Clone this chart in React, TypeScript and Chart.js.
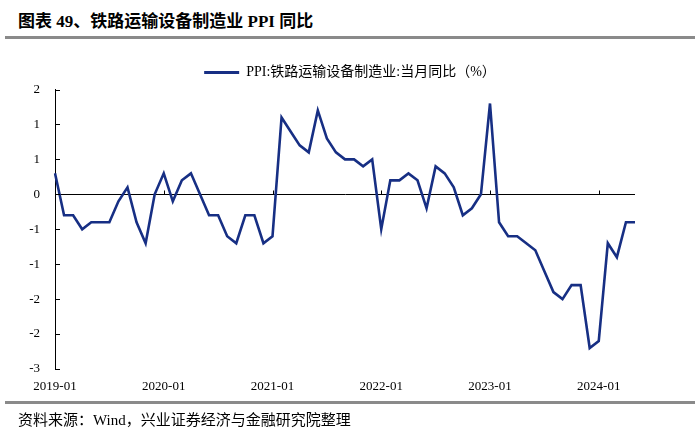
import React, { useEffect, useRef } from 'react';
import { Chart, registerables } from 'chart.js';

Chart.register(...registerables);

const titleText = '图表 49、铁路运输设备制造业 PPI 同比';
const sourceText = '资料来源：Wind，兴业证券经济与金融研究院整理';
const seriesName = 'PPI:铁路运输设备制造业:当月同比（%）';

const years = ['2019', '2020', '2021', '2022', '2023', '2024'];
const monthNames = ['01', '02', '03', '04', '05', '06', '07', '08', '09', '10', '11', '12'];
const lastMonthCount = 5;
const categories: string[] = [];
years.forEach((yr, yi) => {
  const n = yi === years.length - 1 ? lastMonthCount : 12;
  for (let m = 0; m < n; m++) categories.push(`${yr}-${monthNames[m]}`);
});

const ppiValues = [
  0.3, -0.3, -0.3, -0.5, -0.4, -0.4, -0.4, -0.1, 0.1, -0.4, -0.7, 0.0,
  0.3, -0.1, 0.2, 0.3, 0.0, -0.3, -0.3, -0.6, -0.7, -0.3, -0.3, -0.7,
  -0.6, 1.1, 0.9, 0.7, 0.6, 1.2, 0.8, 0.6, 0.5, 0.5, 0.4, 0.5,
  -0.5, 0.2, 0.2, 0.3, 0.2, -0.2, 0.4, 0.3, 0.1, -0.3, -0.2, 0.0,
  1.3, -0.4, -0.6, -0.6, -0.7, -0.8, -1.1, -1.4, -1.5, -1.3, -1.3, -2.2,
  -2.1, -0.7, -0.9, -0.4, -0.4,
];

const yMin = -2.5;
const yMax = 1.5;
const yStep = 0.5;

const LINE_COLOR = '#172f84';
const SERIF = '"Liberation Serif", "Noto Sans CJK SC", serif';

const tickMarks = {
  id: 'tickMarks',
  afterDatasetsDraw(chart: any) {
    const { ctx, chartArea, scales } = chart;
    const x = scales.x;
    const y = scales.y;
    ctx.save();
    ctx.strokeStyle = '#000';
    ctx.lineWidth = 1;
    y.ticks.forEach((t: any) => {
      const py = Math.round(y.getPixelForValue(t.value)) + 0.5;
      ctx.beginPath();
      ctx.moveTo(chartArea.left, py);
      ctx.lineTo(chartArea.left + 5, py);
      ctx.stroke();
    });
    const zy = Math.round(y.getPixelForValue(0)) + 0.5;
    categories.forEach((c, i) => {
      if (c.endsWith('-01')) {
        const px = Math.round(x.getPixelForValue(i)) + 0.5;
        ctx.beginPath();
        ctx.moveTo(px, zy);
        ctx.lineTo(px, zy - 4);
        ctx.stroke();
      }
    });
    ctx.restore();
  },
};

function fmtY(v: number): string {
  const r = Math.sign(v) * Math.round(Math.abs(v) + 1e-9);
  return r === 0 ? '0' : String(r);
}

function PpiChart() {
  const ref = useRef<HTMLCanvasElement | null>(null);
  useEffect(() => {
    if (!ref.current) return;
    const chart = new Chart(ref.current, {
      type: 'line',
      data: {
        labels: categories,
        datasets: [
          {
            label: seriesName,
            data: ppiValues,
            borderColor: LINE_COLOR,
            backgroundColor: LINE_COLOR,
            borderWidth: 2.6,
            pointRadius: 0,
            tension: 0,
            fill: false,
          },
        ],
      },
      options: {
        responsive: false,
        animation: false,
        devicePixelRatio: 1,
        layout: { padding: { top: 48, bottom: 44, left: 0, right: 0 } },
        plugins: {
          tooltip: { enabled: false },
          legend: {
            display: true,
            position: 'top',
            labels: {
              boxWidth: 35,
              boxHeight: 3,
              padding: 17.5,
              color: '#000',
              font: { family: SERIF, size: 14 },
              generateLabels: () => [
                {
                  text: seriesName,
                  fillStyle: LINE_COLOR,
                  strokeStyle: LINE_COLOR,
                  lineWidth: 0,
                  hidden: false,
                  datasetIndex: 0,
                } as any,
              ],
            },
          },
        },
        scales: {
          x: {
            type: 'category',
            offset: false,
            grid: { display: false, drawTicks: false },
            border: { display: false },
            ticks: {
              autoSkip: false,
              maxRotation: 0,
              minRotation: 0,
              padding: 10,
              color: '#000',
              font: { family: SERIF, size: 13 },
              callback: (_v: any, i: number) => (categories[i].endsWith('-01') ? categories[i] : ''),
            },
            afterFit: (s: any) => {
              s.height = 28;
            },
          },
          y: {
            type: 'linear',
            min: yMin,
            max: yMax,
            grid: {
              drawTicks: false,
              drawOnChartArea: true,
              color: (c: any) => (c.tick && Math.abs(c.tick.value) < 1e-9 ? '#000' : 'rgba(0,0,0,0)'),
              lineWidth: 1,
            },
            border: { display: true, color: '#000', width: 1 },
            ticks: {
              stepSize: yStep,
              padding: 15,
              color: '#000',
              font: { family: SERIF, size: 13 },
              callback: (v: any) => fmtY(Number(v)),
            },
            afterFit: (s: any) => {
              s.width = 55;
            },
          },
          yRight: {
            type: 'linear',
            position: 'right',
            display: true,
            grid: { display: false, drawTicks: false },
            border: { display: false },
            ticks: { display: false },
            afterFit: (s: any) => {
              s.width = 65;
            },
          },
        },
      },
      plugins: [tickMarks],
    } as any);
    return () => chart.destroy();
  }, []);
  return (
    <canvas
      ref={ref}
      width={700}
      height={441}
      style={{ position: 'absolute', left: 0, top: 0, width: 700, height: 441 }}
    />
  );
}

export default function App() {
  return (
    <div
      style={{
        position: 'absolute',
        left: 0,
        top: 0,
        width: 700,
        height: 441,
        background: '#fff',
        overflow: 'hidden',
      }}
    >
      <div
        style={{
          position: 'absolute',
          left: 18,
          top: 7,
          fontFamily: SERIF,
          fontWeight: 'bold',
          fontSize: 17,
          color: '#000',
          whiteSpace: 'nowrap',
        }}
      >
        {titleText}
      </div>
      <div style={{ position: 'absolute', left: 5, top: 36, width: 690, height: 3, background: '#8a8a8a' }} />
      <PpiChart />
      <div style={{ position: 'absolute', left: 5, top: 401, width: 690, height: 3, background: '#8a8a8a' }} />
      <div
        style={{
          position: 'absolute',
          left: 18,
          top: 408,
          fontFamily: SERIF,
          fontSize: 15,
          color: '#000',
          whiteSpace: 'nowrap',
        }}
      >
        {sourceText}
      </div>
    </div>
  );
}
